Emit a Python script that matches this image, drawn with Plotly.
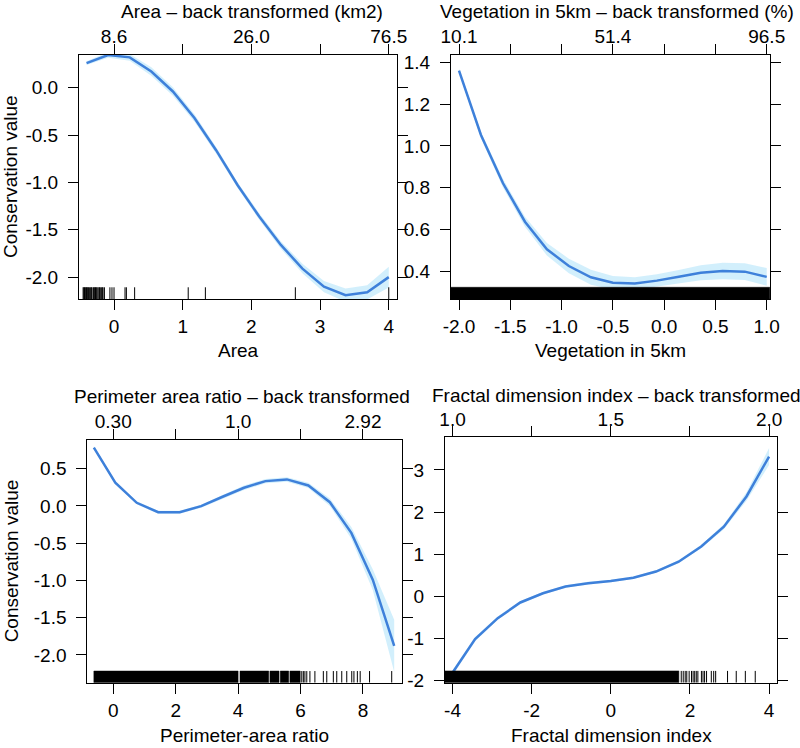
import plotly.graph_objects as go

W, H = 800, 748
FONT = "Liberation Sans, Arial, Helvetica, sans-serif"
LINE_COL = "rgb(62,128,218)"
BAND_COL = "rgba(205,237,252,0.9)"
FS = 19
RUG_FRAC = 0.048

# ---------------- Panel 1: Area ----------------
area_x = [-0.400, -0.086, 0.229, 0.543, 0.857, 1.171, 1.486, 1.800, 2.114, 2.429, 2.743, 3.057, 3.371, 3.686, 4.000]
area_y = [0.26, 0.345, 0.32, 0.17, -0.04, -0.32, -0.66, -1.03, -1.36, -1.66, -1.91, -2.10, -2.19, -2.16, -2.00]
area_ci = [0.02, 0.03, 0.035, 0.045, 0.045, 0.04, 0.035, 0.03, 0.035, 0.04, 0.05, 0.06, 0.07, 0.075, 0.11]
area_rug = [-0.45, -0.44, -0.43, -0.42, -0.41, -0.40, -0.39, -0.38, -0.37, -0.355, -0.34, -0.33,
            -0.32, -0.30, -0.29, -0.28, -0.27, -0.26, -0.25, -0.235, -0.22, -0.21, -0.20, -0.18,
            -0.17, -0.16, -0.14, -0.06, -0.03, 0.0, 0.16, 0.18, 0.30, 1.08, 1.33, 2.64, 4.0]
area_dense = []
area_xticks = [0, 1, 2, 3, 4]
area_xlabels = ["0", "1", "2", "3", "4"]
area_top_ticks = [0, 1, 2, 3, 4]
area_top_labels = ["8.6", "", "26.0", "", "76.5"]
area_yticks = [0.0, -0.5, -1.0, -1.5, -2.0]
area_ylabels = ["0.0", "-0.5", "-1.0", "-1.5", "-2.0"]

# ---------------- Panel 2: Vegetation in 5km ----------------
veg_x = [-2.000, -1.786, -1.571, -1.357, -1.143, -0.929, -0.714, -0.500, -0.286, -0.071, 0.143, 0.357, 0.571, 0.786, 1.000]
veg_y = [1.36, 1.052, 0.821, 0.637, 0.505, 0.425, 0.371, 0.345, 0.341, 0.355, 0.374, 0.393, 0.401, 0.398, 0.373]
veg_ci = [0.01, 0.015, 0.02, 0.024, 0.03, 0.035, 0.036, 0.032, 0.03, 0.03, 0.032, 0.036, 0.04, 0.04, 0.042]
veg_rug = []
veg_dense = [[-2.08, 1.03]]
veg_xticks = [-2.0, -1.5, -1.0, -0.5, 0.0, 0.5, 1.0]
veg_xlabels = ["-2.0", "-1.5", "-1.0", "-0.5", "0.0", "0.5", "1.0"]
veg_top_ticks = [-2.0, -1.5, -1.0, -0.5, 0.0, 0.5, 1.0]
veg_top_labels = ["10.1", "", "", "51.4", "", "", "96.5"]
veg_yticks = [1.4, 1.2, 1.0, 0.8, 0.6, 0.4]
veg_ylabels = ["1.4", "1.2", "1.0", "0.8", "0.6", "0.4"]

# ---------------- Panel 3: Perimeter-area ratio ----------------
par_x = [-0.62, 0.067, 0.754, 1.441, 2.129, 2.816, 3.503, 4.190, 4.877, 5.564, 6.251, 6.939, 7.626, 8.313, 9.000]
par_y = [0.783, 0.311, 0.042, -0.084, -0.084, -0.003, 0.123, 0.244, 0.333, 0.356, 0.275, 0.05, -0.362, -0.99, -1.878]
par_ci = [0.02, 0.02, 0.02, 0.02, 0.02, 0.02, 0.025, 0.03, 0.03, 0.03, 0.035, 0.05, 0.08, 0.14, 0.35]
par_rug = [6.04, 6.09, 6.14, 6.20, 6.30, 6.46, 6.73, 6.84, 7.05, 7.16, 7.32, 7.48, 7.64, 7.71, 7.82, 7.91, 8.21, 8.92]
par_dense = [[-0.62, 4.00], [4.06, 4.98], [5.02, 5.31], [5.35, 5.62], [5.66, 5.99]]
par_xticks = [0, 2, 4, 6, 8]
par_xlabels = ["0", "2", "4", "6", "8"]
par_top_ticks = [0, 2, 4, 6, 8]
par_top_labels = ["0.30", "", "1.0", "", "2.92"]
par_yticks = [0.5, 0.0, -0.5, -1.0, -1.5, -2.0]
par_ylabels = ["0.5", "0.0", "-0.5", "-1.0", "-1.5", "-2.0"]

# ---------------- Panel 4: Fractal dimension index ----------------
fdi_x = [-4.000, -3.429, -2.857, -2.286, -1.714, -1.143, -0.571, 0.000, 0.571, 1.143, 1.714, 2.286, 2.857, 3.429, 4.000]
fdi_y = [-1.82, -1.02, -0.523, -0.15, 0.07, 0.23, 0.31, 0.363, 0.44, 0.585, 0.82, 1.18, 1.65, 2.37, 3.32]
fdi_ci = [0.06, 0.05, 0.04, 0.035, 0.03, 0.03, 0.03, 0.03, 0.03, 0.03, 0.035, 0.04, 0.06, 0.1, 0.2]
fdi_rug = [1.78, 1.83, 1.88, 1.92, 1.98, 2.04, 2.08, 2.12, 2.16, 2.20, 2.29, 2.33, 2.37, 2.42,
           2.54, 2.60, 2.65, 2.95, 3.17, 3.40, 3.65]
fdi_dense = [[-4.19, 1.72]]
fdi_xticks = [-4, -2, 0, 2, 4]
fdi_xlabels = ["-4", "-2", "0", "2", "4"]
fdi_top_ticks = [-4, -2, 0, 2, 4]
fdi_top_labels = ["1.0", "", "1.5", "", "2.0"]
fdi_yticks = [3, 2, 1, 0, -1, -2]
fdi_ylabels = ["3", "2", "1", "0", "-1", "-2"]

Y_TITLE = "Conservation value"

panels = [
    dict(x=area_x, y=area_y, ci=area_ci, rug=area_rug, dense=area_dense,
         xt=area_xticks, xtl=area_xlabels, tt=area_top_ticks, ttl=area_top_labels,
         yt=area_yticks, ytl=area_ylabels, xr=[-0.51, 4.12], yr=[-2.231, 0.345],
         bx=[79, 397], by=[55, 299], xtitle="Area", ttitle="Area – back transformed (km2)",
         ttx=252, tty=11.5, xty=350, ytitle=True),
    dict(x=veg_x, y=veg_y, ci=veg_ci, rug=veg_rug, dense=veg_dense,
         xt=veg_xticks, xtl=veg_xlabels, tt=veg_top_ticks, ttl=veg_top_labels,
         yt=veg_yticks, ytl=veg_ylabels, xr=[-2.078, 1.032], yr=[0.267, 1.435],
         bx=[451, 770], by=[55, 299], xtitle="Vegetation in 5km",
         ttitle="Vegetation in 5km – back transformed (%)", ttx=616.5, tty=11.5, xty=350, ytitle=False),
    dict(x=par_x, y=par_y, ci=par_ci, rug=par_rug, dense=par_dense,
         xt=par_xticks, xtl=par_xlabels, tt=par_top_ticks, ttl=par_top_labels,
         yt=par_yticks, ytl=par_ylabels, xr=[-0.83, 9.24], yr=[-2.373, 0.885],
         bx=[87.3, 401.7], by=[440, 682.7], xtitle="Perimeter-area ratio",
         ttitle="Perimeter area ratio – back transformed", ttx=241.5, tty=396.5, xty=735, ytitle=True),
    dict(x=fdi_x, y=fdi_y, ci=fdi_ci, rug=fdi_rug, dense=fdi_dense,
         xt=fdi_xticks, xtl=fdi_xlabels, tt=fdi_top_ticks, ttl=fdi_top_labels,
         yt=fdi_yticks, ytl=fdi_ylabels, xr=[-4.19, 4.2], yr=[-2.057, 3.777],
         bx=[445, 777], by=[437.3, 682.7], xtitle="Fractal dimension index",
         ttitle="Fractal dimension index – back transformed", ttx=616, tty=395.5, xty=735, ytitle=False),
]

fig = go.Figure()
layout = dict(width=W, height=H, margin=dict(l=0, r=0, t=0, b=0, autoexpand=False),
              paper_bgcolor="white", plot_bgcolor="white", showlegend=False,
              font=dict(family=FONT, size=FS, color="black"))
annotations = []

axis_common = dict(showline=True, linecolor="black", linewidth=1, ticks="outside", ticklen=10,
                   tickwidth=1, tickcolor="black", showgrid=False, zeroline=False,
                   tickfont=dict(size=FS, color="black", family=FONT), fixedrange=True,
                   automargin=False)

for i, p in enumerate(panels):
    n = i + 1
    sfx = "" if n == 1 else str(n)
    xa, ya = "x" + sfx, "y" + sfx
    top = "x" + str(n + 4)

    lo = [a - c for a, c in zip(p["y"], p["ci"])]
    hi = [a + c for a, c in zip(p["y"], p["ci"])]
    fig.add_trace(go.Scatter(x=p["x"] + p["x"][::-1], y=hi + lo[::-1], fill="toself",
                             fillcolor=BAND_COL, line=dict(width=0), mode="lines",
                             xaxis=xa, yaxis=ya, hoverinfo="skip"))
    fig.add_trace(go.Scatter(x=p["x"], y=p["y"], mode="lines",
                             line=dict(color=LINE_COL, width=2.5), xaxis=xa, yaxis=ya))

    y0 = p["yr"][0]
    y1 = y0 + RUG_FRAC * (p["yr"][1] - p["yr"][0])
    dx, dy = [], []
    for a, b in p["dense"]:
        dx += [a, b, b, a, a, None]
        dy += [y0, y0, y1, y1, y0, None]
    if dx:
        fig.add_trace(go.Scatter(x=dx, y=dy, mode="lines", fill="toself", fillcolor="black",
                                 line=dict(color="black", width=0.5), xaxis=xa, yaxis=ya,
                                 hoverinfo="skip"))
    rx, ry = [], []
    for v in p["rug"]:
        rx += [v, v, None]
        ry += [y0, y1, None]
    if rx:
        fig.add_trace(go.Scatter(x=rx, y=ry, mode="lines", line=dict(color="black", width=1),
                                 xaxis=xa, yaxis=ya, hoverinfo="skip"))
    # invisible trace to host the top axis
    fig.add_trace(go.Scatter(x=p["x"], y=p["y"], mode="lines", line=dict(width=0),
                             opacity=0, xaxis=top, yaxis=ya, hoverinfo="skip"))

    dom_x = [p["bx"][0] / W, p["bx"][1] / W]
    dom_y = [(H - p["by"][1]) / H, (H - p["by"][0]) / H]
    layout["xaxis" + sfx] = dict(domain=dom_x, range=p["xr"], anchor=ya, mirror=True,
                                 tickmode="array", tickvals=p["xt"], ticktext=p["xtl"], **axis_common)
    layout["yaxis" + sfx] = dict(domain=dom_y, range=p["yr"], anchor=xa, mirror="ticks",
                                 tickmode="array", tickvals=p["yt"], ticktext=p["ytl"],
                                 ticklabelstandoff=6, **axis_common)
    tc = dict(axis_common)
    tc["showline"] = False
    layout["xaxis" + str(n + 4)] = dict(overlaying=xa, side="top", anchor=ya, range=p["xr"],
                                        tickmode="array", tickvals=p["tt"], ticktext=p["ttl"],
                                        ticklabelstandoff=-7, **tc)

    annotations.append(dict(text=p["ttitle"], x=p["ttx"] / W, y=(H - p["tty"]) / H,
                            xref="paper", yref="paper", xanchor="center", yanchor="middle",
                            showarrow=False, font=dict(size=FS, family=FONT, color="black")))
    annotations.append(dict(text=p["xtitle"], x=(p["bx"][0] + p["bx"][1]) / 2 / W,
                            y=(H - p["xty"]) / H, xref="paper", yref="paper",
                            xanchor="center", yanchor="middle", showarrow=False,
                            font=dict(size=FS, family=FONT, color="black")))
    if p["ytitle"]:
        annotations.append(dict(text=Y_TITLE, x=11 / W, y=(H - (p["by"][0] + p["by"][1]) / 2) / H,
                                xref="paper", yref="paper", xanchor="center", yanchor="middle",
                                textangle=-90, showarrow=False,
                                font=dict(size=FS, family=FONT, color="black")))

layout["annotations"] = annotations
fig.update_layout(**layout)
fig.write_html("out.html", config={"displayModeBar": False},
               post_script="document.body.style.margin='0px';")
